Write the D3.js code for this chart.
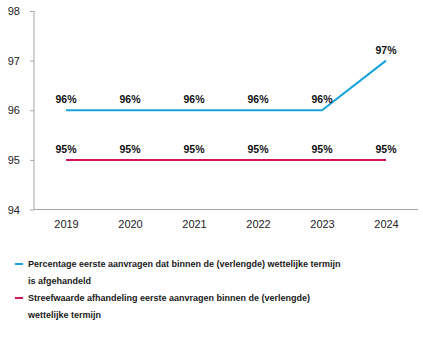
<!DOCTYPE html>
<html lang="nl">
<head>
<meta charset="UTF-8">
<title>Afhandeling eerste aanvragen</title>
<script src="https://cdn.jsdelivr.net/npm/d3@7"></script>
<style>
  body { margin: 0; background: #fff; }
  svg { font-family: "Liberation Sans", Arial, sans-serif; }
  .axis path, .axis line { stroke: #a6a6a6; }
  .axis text { fill: #222; font-size: 11px; }
  .lbl { font-size: 10.5px; font-weight: bold; fill: #111; text-anchor: middle; }
  .leg { font-size: 9px; font-weight: bold; fill: #1a1a1a; }
</style>
</head>
<body>
<svg id="chart" width="423" height="339"></svg>
<script>
// data
const years = ["2019", "2020", "2021", "2022", "2023", "2024"];
const percentage = [96, 96, 96, 96, 96, 97];
const streefwaarde = [95, 95, 95, 95, 95, 95];
const yTicks = [94, 95, 96, 97, 98];
const legendLines = [
  ["Percentage eerste aanvragen dat binnen de (verlengde) wettelijke termijn", "is afgehandeld"],
  ["Streefwaarde afhandeling eerste aanvragen binnen de (verlengde)", "wettelijke termijn"]
];
const colors = ["#17a2dd", "#d4145a"];

const svg = d3.select("#chart");
const plotLeft = 34, plotRight = 418, plotTop = 11, plotBottom = 209.5;

const x = d3.scalePoint().domain(years).range([plotLeft, plotRight]).padding(0.5);
const y = d3.scaleLinear().domain([94, 98]).range([plotBottom, plotTop]);

// y axis
svg.append("g").attr("class", "axis")
  .attr("transform", `translate(${plotLeft},0)`)
  .call(d3.axisLeft(y).tickValues(yTicks).tickFormat(d3.format("d")).tickSize(4).tickPadding(10).tickSizeOuter(0))
  .call(g => g.select(".domain").attr("d", `M0,${plotTop}V${plotBottom}`));

// x axis
svg.append("g").attr("class", "axis")
  .attr("transform", `translate(0,${plotBottom})`)
  .call(d3.axisBottom(x).tickSize(0).tickPadding(11))
  .call(g => g.select(".domain").attr("d", `M${plotLeft},0H${plotRight}`));

const series = [percentage, streefwaarde];
const line = d3.line().x((d, i) => x(years[i])).y(d => y(d));

series.forEach((vals, s) => {
  svg.append("path").datum(vals)
    .attr("d", line)
    .attr("fill", "none")
    .attr("stroke", colors[s])
    .attr("stroke-width", 2);

  svg.selectAll(null).data(vals).enter().append("text")
    .attr("class", "lbl")
    .attr("x", (d, i) => x(years[i]))
    .attr("y", d => y(d) - 7)
    .text(d => d + "%");
});

// legend
const legY = [267, 301];
legendLines.forEach((lines, s) => {
  svg.append("line")
    .attr("x1", 15).attr("x2", 23)
    .attr("y1", legY[s] - 3).attr("y2", legY[s] - 3)
    .attr("stroke", colors[s]).attr("stroke-width", 2);
  lines.forEach((t, k) => {
    svg.append("text").attr("class", "leg")
      .attr("x", 28).attr("y", legY[s] + k * 17)
      .text(t);
  });
});
</script>
</body>
</html>
